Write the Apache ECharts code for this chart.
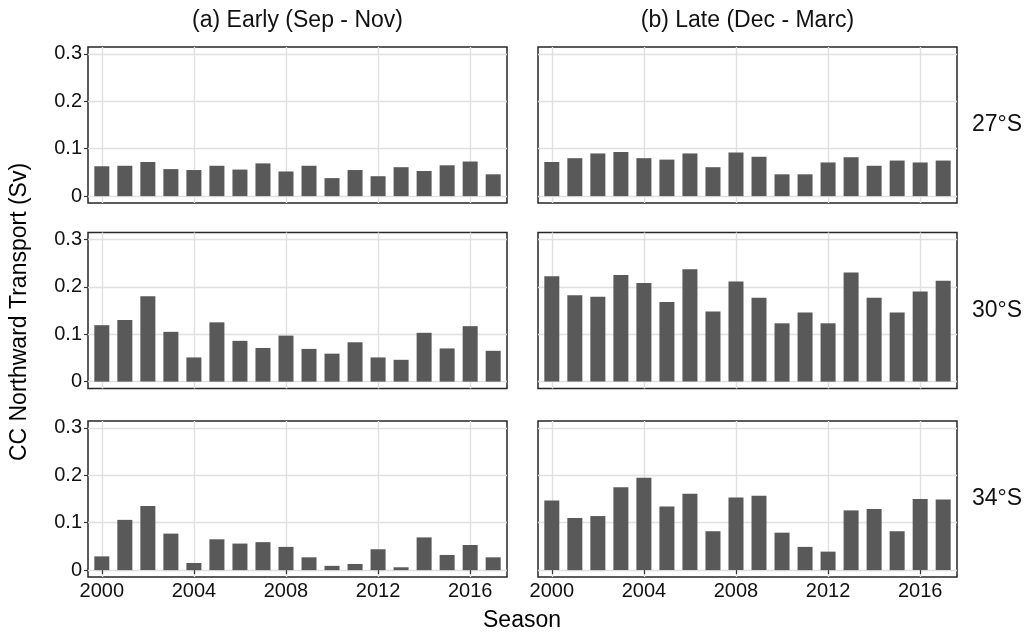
<!DOCTYPE html>
<html>
<head>
<meta charset="utf-8">
<script src="https://cdn.jsdelivr.net/npm/echarts@6/dist/echarts.min.js"></script>
<style>
html, body { margin: 0; padding: 0; background: #ffffff; }
#chart { width: 1026px; height: 635px; }
</style>
</head>
<body>
<div id="chart"></div>
<script>
// Seasonal mean northward transport of the Capricorn Current (Sv)
const years = [2000, 2001, 2002, 2003, 2004, 2005, 2006, 2007, 2008, 2009,
               2010, 2011, 2012, 2013, 2014, 2015, 2016, 2017];

const seasonTitles = ['(a) Early (Sep - Nov)', '(b) Late (Dec - Marc)'];
const latitudeLabels = ['27°S', '30°S', '34°S'];

const early27 = [0.063, 0.064, 0.072, 0.057, 0.055, 0.064, 0.056, 0.069, 0.052, 0.064,
                 0.038, 0.055, 0.042, 0.061, 0.053, 0.065, 0.073, 0.046];
const late27  = [0.072, 0.080, 0.090, 0.093, 0.080, 0.077, 0.090, 0.061, 0.092, 0.083,
                 0.046, 0.046, 0.071, 0.082, 0.064, 0.075, 0.071, 0.075];
const early30 = [0.119, 0.130, 0.180, 0.105, 0.051, 0.125, 0.086, 0.071, 0.097, 0.069,
                 0.059, 0.083, 0.051, 0.046, 0.103, 0.070, 0.117, 0.065];
const late30  = [0.222, 0.182, 0.179, 0.225, 0.208, 0.168, 0.237, 0.148, 0.211, 0.177,
                 0.123, 0.146, 0.123, 0.230, 0.177, 0.146, 0.190, 0.213];
const early34 = [0.029, 0.106, 0.135, 0.077, 0.015, 0.065, 0.056, 0.059, 0.049, 0.027,
                 0.009, 0.013, 0.044, 0.006, 0.069, 0.032, 0.053, 0.027];
const late34  = [0.147, 0.110, 0.114, 0.175, 0.195, 0.134, 0.161, 0.082, 0.153, 0.157,
                 0.079, 0.049, 0.039, 0.126, 0.129, 0.082, 0.150, 0.149];

const xTicks = [2000, 2004, 2008, 2012, 2016];
const yTicks = [0, 0.1, 0.2, 0.3];

// rows = latitude, columns = season
const panels = [
  [early27, late27],
  [early30, late30],
  [early34, late34]
];

const FONT = '"Liberation Sans", Arial, sans-serif';
const colLeft = [88, 538];
const colWidth = 419;
const rowTop = [47, 232.5, 421];
const rowHeight = 156;

const grids = [], xAxes = [], yAxes = [], series = [];

panels.forEach((row, r) => {
  row.forEach((values, c) => {
    const idx = grids.length;
    const bottomRow = r === panels.length - 1;
    const leftCol = c === 0;
    grids.push({
      left: colLeft[c], top: rowTop[r], width: colWidth, height: rowHeight,
      show: true, borderColor: '#262626', borderWidth: 1.5, backgroundColor: '#ffffff',
      z: 0
    });
    xAxes.push({
      type: 'value', gridIndex: idx, min: 1999.4, max: 2017.6,
      axisLine: { show: false },
      axisTick: { show: bottomRow, length: 4, lineStyle: { color: '#333333', width: 1.2 }, customValues: xTicks },
      axisLabel: { show: bottomRow, customValues: xTicks, margin: 4, fontSize: 20, color: '#111111',
                   fontFamily: FONT, formatter: v => String(v) },
      splitLine: { show: true, lineStyle: { color: '#e0e0e0', width: 1.4 } }
    });
    yAxes.push({
      type: 'value', gridIndex: idx, min: -0.0145, max: 0.3145,
      axisLine: { show: false },
      axisTick: { show: leftCol, length: 4, lineStyle: { color: '#333333', width: 1.2 }, customValues: yTicks },
      axisLabel: { show: leftCol, customValues: yTicks, margin: 6, fontSize: 20, color: '#111111',
                   fontFamily: FONT, formatter: v => (v === 0 ? '0' : v.toFixed(1)) },
      splitLine: { show: true, lineStyle: { color: '#e0e0e0', width: 1.4 } }
    });
    series.push({
      type: 'bar', xAxisIndex: idx, yAxisIndex: idx,
      data: years.map((y, i) => [y, values[i]]),
      barWidth: 15,
      itemStyle: { color: '#595959' },
      silent: true, animation: false
    });
  });
});

const graphics = [];
seasonTitles.forEach((t, c) => {
  graphics.push({
    type: 'text', x: colLeft[c] + colWidth / 2, y: 21,
    style: { text: t, fontSize: 23, fontFamily: FONT, fill: '#111111', align: 'center', verticalAlign: 'middle' }
  });
});
latitudeLabels.forEach((t, r) => {
  graphics.push({
    type: 'text', x: 972, y: rowTop[r] + rowHeight / 2,
    style: { text: t, fontSize: 23, fontFamily: FONT, fill: '#111111', align: 'left', verticalAlign: 'middle' }
  });
});
graphics.push({
  type: 'text', x: 20, y: 312, rotation: Math.PI / 2,
  style: { text: 'CC Northward Transport (Sv)', fontSize: 23, fontFamily: FONT, fill: '#000000',
           align: 'center', verticalAlign: 'middle' }
});
graphics.push({
  type: 'text', x: 522, y: 621,
  style: { text: 'Season', fontSize: 23, fontFamily: FONT, fill: '#000000', align: 'center', verticalAlign: 'middle' }
});

const chart = echarts.init(document.getElementById('chart'), null, { renderer: 'canvas' });
chart.setOption({
  animation: false,
  backgroundColor: '#ffffff',
  grid: grids,
  xAxis: xAxes,
  yAxis: yAxes,
  series: series,
  graphic: graphics
});
</script>
</body>
</html>
